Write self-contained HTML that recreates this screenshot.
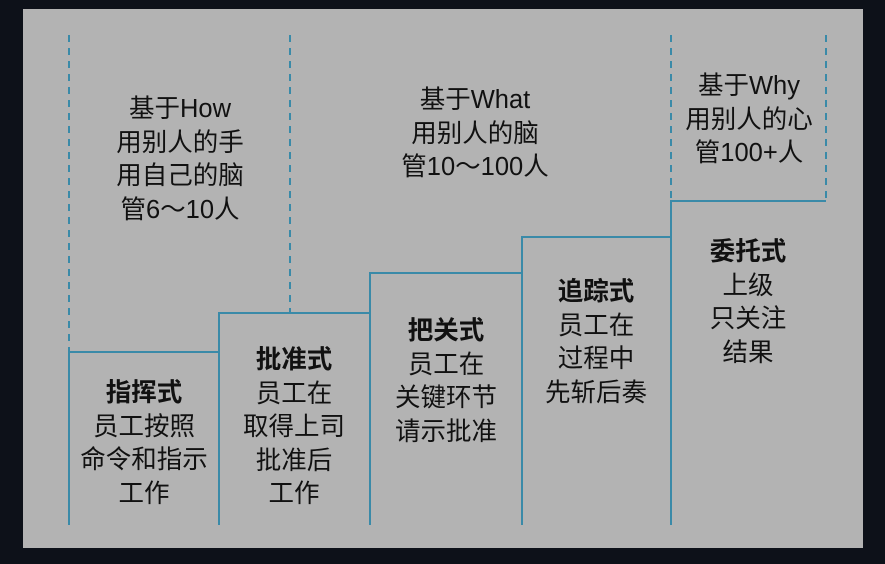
<!DOCTYPE html>
<html><head><meta charset="utf-8"><style>
body{margin:0;width:885px;height:564px;background:#0d1119;overflow:hidden;position:relative;font-family:"Liberation Sans","Noto Sans CJK SC",sans-serif;}
#p{position:absolute;left:23px;top:9px;width:840px;height:539px;background:#b3b3b3;}
.t{position:absolute;text-align:center;font-size:25.5px;line-height:33.5px;color:#111;width:200px;}
b{font-weight:bold;}
</style></head><body>
<div id="p"></div>
<svg width="885" height="564" style="position:absolute;left:0;top:0">
<g stroke="#3a8aa8" stroke-width="2" fill="none">
<path d="M69 525V352H219V313H370V273H522V237H671V201H826"/>
<path d="M219 525V313M370 525V273M522 525V237M671 525V201"/>
<g stroke-dasharray="7,6"><path d="M69 35V352M290 35V313M671 35V201M826 35V201"/></g>
</g></svg>
<div class="t" style="left:80px;top:93px">基于How<br>用别人的手<br>用自己的脑<br>管6～10人</div>
<div class="t" style="left:375px;top:84px">基于What<br>用别人的脑<br>管10～100人</div>
<div class="t" style="left:649px;top:70px">基于Why<br>用别人的心<br>管100+人</div>
<div class="t" style="left:44px;top:377px"><b>指挥式</b><br>员工按照<br>命令和指示<br>工作</div>
<div class="t" style="left:194px;top:344px"><b>批准式</b><br>员工在<br>取得上司<br>批准后<br>工作</div>
<div class="t" style="left:346px;top:315px"><b>把关式</b><br>员工在<br>关键环节<br>请示批准</div>
<div class="t" style="left:496px;top:276px"><b>追踪式</b><br>员工在<br>过程中<br>先斩后奏</div>
<div class="t" style="left:648px;top:236px"><b>委托式</b><br>上级<br>只关注<br>结果</div>
</body></html>
